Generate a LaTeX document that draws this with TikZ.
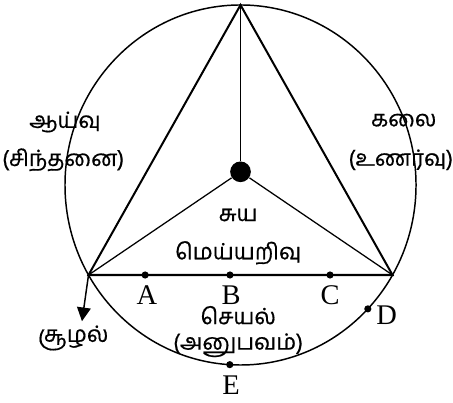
\documentclass[tikz,border=0pt]{standalone}
\usepackage{fontspec}
\setmainfont{Liberation Serif}
\newfontfamily\tamilfont[Script=Tamil, FakeBold=0.6]{Hind Madurai}
\usetikzlibrary{arrows.meta}

\tikzset{
  tamil/.style={font=\tamilfont\fontsize{10.6}{12}\selectfont, inner sep=1pt},
  letter/.style={font=\fontsize{13.5}{15}\selectfont, inner sep=1pt},
  point/.style={circle, fill, inner sep=0pt, minimum size=3.4pt},
  hub/.style={circle, fill, inner sep=0pt, minimum size=9.8pt},
}

\begin{document}
\begin{tikzpicture}[x=0.975cm, y=1cm, >={Triangle[length=6.5pt, width=6.5pt]}]
  \useasboundingbox (-4.111,-3.617) rectangle (3.632,3.083);

  % Cirkel
  \coordinate (O) at (0,0);
  \draw[line width=0.7pt] (O) circle[radius=3];

  % Hoekpunten van de driehoek
  \coordinate (T) at (90:3);
  \coordinate (L) at (210:3);
  \coordinate (R) at (330:3);

  % Middelpunt
  \node[hub] (M) at (0,0.22) {};

  % Driehoek
  \draw[line width=0.95pt] (T) -- (L) -- (R) -- cycle;

  % Lijnen naar het middelpunt
  \draw[line width=0.6pt] (T) -- (M);
  \draw[line width=0.6pt] (M) -- (L);
  \draw[line width=0.6pt] (M) -- (R);

  % Punten
  \node[point] (A) at (-1.63,-1.5) {};
  \node[point] (B) at (-0.18,-1.5) {};
  \node[point] (C) at ( 1.53,-1.5) {};
  \node[point] (D) at (316.5:3) {};
  \node[point] (E) at (266.5:3) {};

  % Letters
  \node[letter] (labA) at (-1.60,-1.83) {A};
  \node[letter] (labB) at (-0.16,-1.83) {B};
  \node[letter] (labC) at ( 1.53,-1.83) {C};
  \node[letter] (labD) at ( 2.50,-2.17) {D};
  \node[letter] (labE) at (-0.16,-3.33) {E};

  % Pijl naar buiten
  \coordinate (S) at (-2.71,-2.27);
  \draw[->, line width=0.7pt] (L) -- (S);

  % Tamil labels
  \node[tamil] (aayvu)  at (-3.00, 1.05) {ஆய்வு};
  \node[tamil] (sinth)  at (-3.03, 0.42) {(சிந்தனை)};
  \node[tamil] (kalai)  at ( 2.79, 1.08) {கலை};
  \node[tamil] (unarvu) at ( 2.74, 0.42) {(உணர்வு)};
  \node[tamil] (suya)   at (-0.04,-0.50) {சுய};
  \node[tamil] (mey)    at (-0.04,-1.13) {மெய்யறிவு};
  \node[tamil] (seyal)  at (-0.04,-2.17) {செயல்};
  \node[tamil] (anu)    at (-0.04,-2.67) {(அனுபவம்)};
  \node[tamil] (soozh)  at (-2.86,-2.55) {சூழல்};

\end{tikzpicture}
\end{document}
